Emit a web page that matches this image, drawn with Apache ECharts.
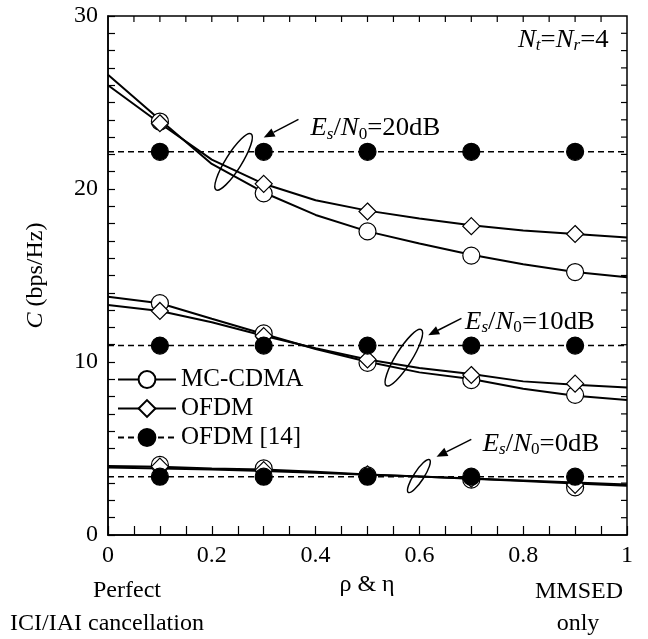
<!DOCTYPE html>
<html>
<head>
<meta charset="utf-8">
<script src="https://cdn.jsdelivr.net/npm/echarts@6/dist/echarts.min.js"></script>
<style>
  html, body { margin: 0; padding: 0; background: #fff; }
  #chart { width: 648px; height: 639px; }
</style>
</head>
<body>
<div id="chart"></div>
<script>
// Analytical curves are evaluated on a 0.1 grid of rho & eta
const rhoGrid = [0, 0.1, 0.2, 0.3, 0.4, 0.5, 0.6, 0.7, 0.8, 0.9, 1];

const mcCdma20 = [26.6, 24.0, 21.45, 19.8, 18.5, 17.55, 16.85, 16.2, 15.65, 15.2, 14.9];
const ofdm20   = [26.0, 23.8, 21.7, 20.3, 19.35, 18.75, 18.3, 17.9, 17.6, 17.4, 17.2];
const mcCdma10 = [13.77, 13.4, 12.5, 11.62, 10.75, 10.02, 9.4, 9.02, 8.45, 8.05, 7.8];
const ofdm10   = [13.29, 12.95, 12.3, 11.52, 10.8, 10.15, 9.65, 9.3, 8.88, 8.68, 8.53];
const mcCdma0  = [3.99, 3.95, 3.85, 3.78, 3.65, 3.5, 3.38, 3.25, 3.12, 2.98, 2.85];
const ofdm0    = [3.9, 3.85, 3.78, 3.7, 3.6, 3.48, 3.38, 3.27, 3.15, 3.03, 2.92];

// Simulated points
const simX = [0.1, 0.3, 0.5, 0.7, 0.9];
const mcCdma20Sim = [23.9, 19.75, 17.55, 16.15, 15.2];
const ofdm20Sim   = [23.8, 20.3, 18.7, 17.85, 17.4];
const mcCdma10Sim = [13.4, 11.65, 9.95, 8.95, 8.1];
const ofdm10Sim   = [12.95, 11.5, 10.15, 9.25, 8.75];
const mcCdma0Sim  = [4.05, 3.85, 3.45, 3.2, 2.75];
const ofdm0Sim    = [3.95, 3.75, 3.5, 3.25, 2.9];

// Reference scheme [14]: capacity does not depend on rho & eta
const refOfdm = [22.15, 10.95, 3.37];

const xTicks = [0, 0.2, 0.4, 0.6, 0.8, 1];
const yTicks = [0, 10, 20, 30];
const xMinorSplit = 4;
const yMinorSplit = 10;

const SERIF = '"Liberation Serif", "Times New Roman", serif';

const pairs = (xs, ys) => xs.map((x, i) => [x, ys[i]]);

function curve(name, symbol, fill, values, dashed) {
  return {
    name: name,
    type: 'line',
    data: pairs(rhoGrid.length === values.length ? rhoGrid : [0, 1], values),
    showSymbol: false,
    symbol: symbol,
    symbolSize: 17,
    itemStyle: { color: fill, borderColor: '#000', borderWidth: 1.2 },
    lineStyle: { color: '#000', width: dashed ? 1.6 : 2, type: dashed ? [6, 4] : 'solid' },
    emphasis: { disabled: true },
    z: 2
  };
}

function marks(name, symbol, fill, values, z) {
  return {
    name: name,
    type: 'scatter',
    data: pairs(simX, values),
    symbol: symbol,
    symbolSize: 17,
    itemStyle: { color: fill, borderColor: '#000', borderWidth: 1.2, opacity: 1 },
    emphasis: { disabled: true },
    z: z
  };
}

const series = [
  curve('MC-CDMA', 'circle', '#fff', mcCdma20),
  curve('OFDM', 'diamond', '#fff', ofdm20),
  curve('OFDM [14]', 'circle', '#000', [refOfdm[0], refOfdm[0]], true),
  curve('MC-CDMA', 'circle', '#fff', mcCdma10),
  curve('OFDM', 'diamond', '#fff', ofdm10),
  curve('OFDM [14]', 'circle', '#000', [refOfdm[1], refOfdm[1]], true),
  curve('MC-CDMA', 'circle', '#fff', mcCdma0),
  curve('OFDM', 'diamond', '#fff', ofdm0),
  curve('OFDM [14]', 'circle', '#000', [refOfdm[2], refOfdm[2]], true),
  marks('MC-CDMA sim', 'circle', '#fff', mcCdma20Sim, 3),
  marks('OFDM sim', 'diamond', '#fff', ofdm20Sim, 3),
  marks('MC-CDMA sim', 'circle', '#fff', mcCdma10Sim, 3),
  marks('OFDM sim', 'diamond', '#fff', ofdm10Sim, 3),
  marks('MC-CDMA sim', 'circle', '#fff', mcCdma0Sim, 3),
  marks('OFDM sim', 'diamond', '#fff', ofdm0Sim, 3),
  marks('OFDM [14] sim', 'circle', '#000', simX.map(() => refOfdm[0]), 4),
  marks('OFDM [14] sim', 'circle', '#000', simX.map(() => refOfdm[1]), 4),
  marks('OFDM [14] sim', 'circle', '#000', simX.map(() => refOfdm[2]), 4)
];

const chart = echarts.init(document.getElementById('chart'));

chart.setOption({
  animation: false,
  backgroundColor: '#fff',
  grid: { left: 108, right: 21, top: 16, bottom: 104, show: true, borderColor: '#000', borderWidth: 1.5 },
  xAxis: {
    type: 'value', min: xTicks[0], max: xTicks[xTicks.length - 1], interval: xTicks[1] - xTicks[0],
    axisLine: { show: true, lineStyle: { color: '#000', width: 1.5 } },
    axisTick: { show: true, inside: true, length: 9, lineStyle: { color: '#000', width: 1.2 } },
    minorTick: { show: true, splitNumber: xMinorSplit, length: 9, lineStyle: { color: '#000', width: 1.2 } },
    splitLine: { show: false },
    axisLabel: { color: '#000', fontFamily: SERIF, fontSize: 24, margin: 9,
                 formatter: v => String(+v.toFixed(1)) }
  },
  yAxis: {
    type: 'value', min: yTicks[0], max: yTicks[yTicks.length - 1], interval: yTicks[1] - yTicks[0],
    axisLine: { show: true, lineStyle: { color: '#000', width: 1.5 } },
    axisTick: { show: true, inside: true, length: 7, lineStyle: { color: '#000', width: 1.2 } },
    minorTick: { show: true, splitNumber: yMinorSplit, length: 7, lineStyle: { color: '#000', width: 1.2 } },
    splitLine: { show: false },
    axisLabel: { color: '#000', fontFamily: SERIF, fontSize: 24, margin: 10 },
    name: '{i|C} (bps/Hz)',
    nameLocation: 'middle',
    nameGap: 60,
    nameRotate: 90,
    nameTextStyle: {
      color: '#000', fontFamily: SERIF, fontSize: 24,
      rich: { i: { fontStyle: 'italic', fontFamily: SERIF, fontSize: 24, color: '#000' } }
    }
  },
  legend: {
    data: ['MC-CDMA', 'OFDM', 'OFDM [14]'],
    orient: 'vertical',
    left: 112,
    top: 362,
    itemWidth: 58,
    itemHeight: 21,
    itemGap: 4,
    selectedMode: false,
    textStyle: { color: '#000', fontFamily: SERIF, fontSize: 25 }
  },
  series: series
});

// Annotations anchored in data coordinates
const toPx = (x, y) => chart.convertToPixel({ gridIndex: 0 }, [x, y]);
const richBase = { fontFamily: SERIF, fontSize: 25, color: '#000', lineHeight: 28 };
const rich = {
  n: Object.assign({}, richBase),
  i: Object.assign({}, richBase, { fontStyle: 'italic' }),
  s: Object.assign({}, richBase, { fontSize: 16, lineHeight: 28, verticalAlign: 'bottom' }),
  si: Object.assign({}, richBase, { fontSize: 16, lineHeight: 28, verticalAlign: 'bottom', fontStyle: 'italic' })
};

function label(text, x, y) {
  const p = toPx(x, y);
  return {
    type: 'text', x: p[0], y: p[1], z: 10, scaleX: 1.07,
    style: { text: text, rich: rich, font: '25px ' + SERIF, fill: '#000',
             align: 'left', verticalAlign: 'middle' }
  };
}

function ring(x, y, rx, ry, deg) {
  const p = toPx(x, y);
  return {
    type: 'ellipse', x: p[0], y: p[1], rotation: -deg * Math.PI / 180, z: 10,
    shape: { cx: 0, cy: 0, rx: rx, ry: ry },
    style: { fill: 'none', stroke: '#000', lineWidth: 1.5 }
  };
}

function arrow(x0, y0, x1, y1) {
  const a = toPx(x0, y0), b = toPx(x1, y1);
  const dx = b[0] - a[0], dy = b[1] - a[1];
  const len = Math.hypot(dx, dy);
  const ux = dx / len, uy = dy / len;
  const head = 11, half = 4.5;
  const bx = b[0] - ux * head, by = b[1] - uy * head;
  return [
    { type: 'line', z: 10, shape: { x1: a[0], y1: a[1], x2: bx, y2: by },
      style: { stroke: '#000', lineWidth: 1.5 } },
    { type: 'polygon', z: 10,
      shape: { points: [[b[0], b[1]], [bx - uy * half, by + ux * half], [bx + uy * half, by - ux * half]] },
      style: { fill: '#000', stroke: 'none' } }
  ];
}

const snrText = db => '{i|E}{si|s}{n|/}{i|N}{s|0}{n|=' + db + 'dB}';

const graphics = [
  label('{i|N}{si|t}{n|=}{i|N}{si|r}{n|=4}', 0.79, 28.6),
  ring(0.242, 21.57, 8, 33, 32),
  ...arrow(0.367, 24.02, 0.300, 22.98),
  label(snrText(20), 0.39, 23.5),
  ring(0.570, 10.25, 8, 33, 32),
  ...arrow(0.681, 12.52, 0.617, 11.55),
  label(snrText(10), 0.688, 12.3),
  ring(0.599, 3.41, 5, 19.5, 33),
  ...arrow(0.700, 5.53, 0.633, 4.52),
  label(snrText(0), 0.722, 5.26)
];

// Mirrored inward ticks on the top and right edges of the frame
const xMin = xTicks[0], xMax = xTicks[xTicks.length - 1];
const yMin = yTicks[0], yMax = yTicks[yTicks.length - 1];
const xStep = (xTicks[1] - xTicks[0]) / xMinorSplit;
const yStep = (yTicks[1] - yTicks[0]) / yMinorSplit;
const tickStyle = { stroke: '#000', lineWidth: 1.2 };
for (let k = 1; xMin + k * xStep < xMax - 1e-9; k++) {
  const p = toPx(xMin + k * xStep, yMax);
  graphics.push({ type: 'line', z: 10, shape: { x1: p[0], y1: p[1], x2: p[0], y2: p[1] + 6 }, style: tickStyle });
}
for (let k = 1; yMin + k * yStep < yMax - 1e-9; k++) {
  const p = toPx(xMax, yMin + k * yStep);
  graphics.push({ type: 'line', z: 10, shape: { x1: p[0], y1: p[1], x2: p[0] - 6, y2: p[1] }, style: tickStyle });
}

// Captions under the horizontal axis
const textBelow = (t, x, y) => ({
  type: 'text', x: x, y: y, z: 10,
  style: { text: t, font: '24px ' + SERIF, fill: '#000', align: 'center', verticalAlign: 'middle' }
});
graphics.push(
  textBelow('ρ & η', 367, 585),
  textBelow('Perfect', 127, 591),
  textBelow('ICI/IAI cancellation', 107, 624),
  textBelow('MMSED', 579, 592),
  textBelow('only', 578, 624)
);

chart.setOption({ graphic: graphics });
</script>
</body>
</html>
